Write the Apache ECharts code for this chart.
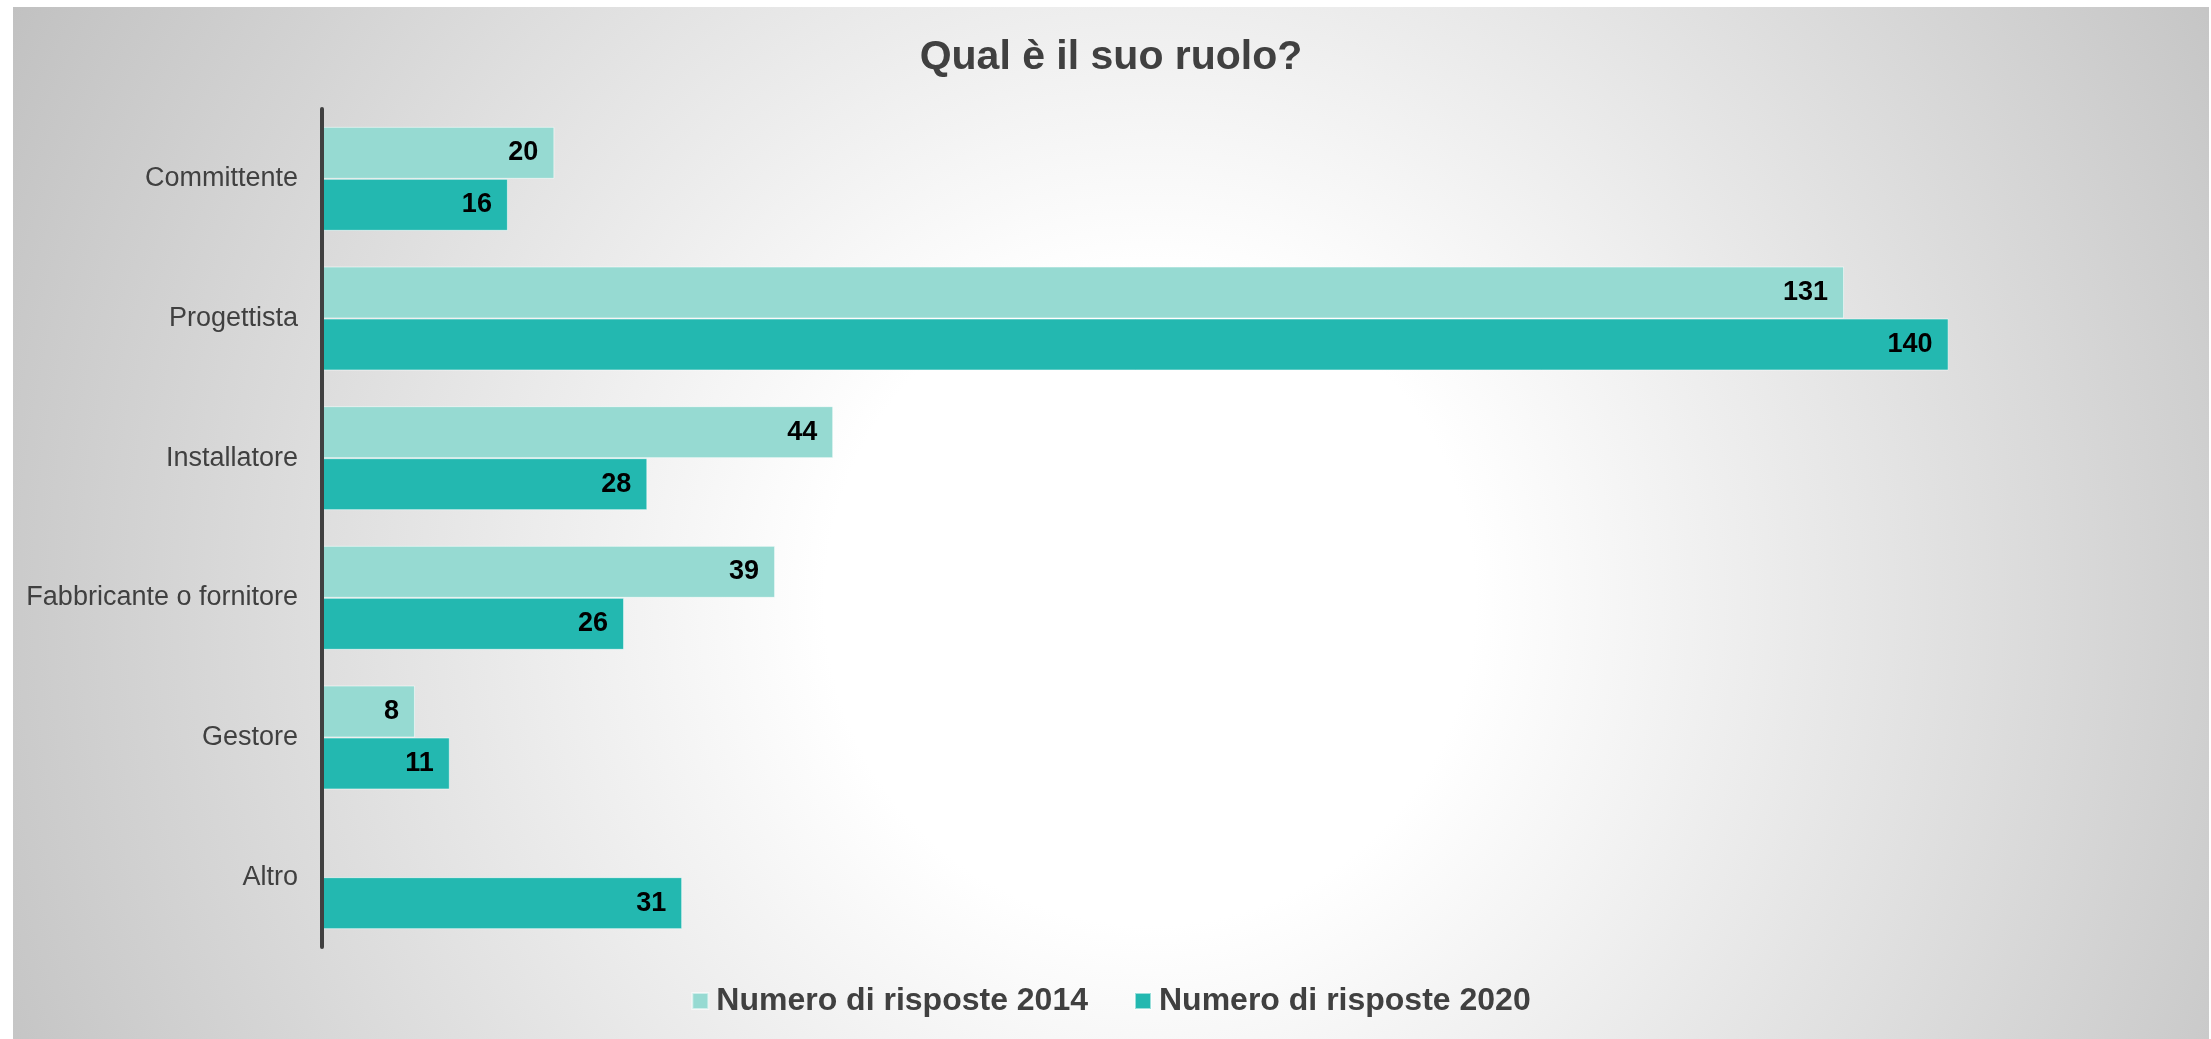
<!DOCTYPE html>
<html>
<head>
<meta charset="utf-8">
<script src="https://cdn.jsdelivr.net/npm/echarts@6/dist/echarts.min.js"></script>
<style>
  html, body { margin: 0; padding: 0; background: #fff; }
  #chart {
    position: absolute;
    left: 13px;
    top: 7px;
    width: 2196px;
    height: 1032px;
    background: radial-gradient(1300px 1300px at 1137px 593px, #ffffff 0%, #ffffff 25%, #c0c0c0 100%);
  }
</style>
</head>
<body>
<div id="chart"></div>
<script>
const categories = ['Committente', 'Progettista', 'Installatore', 'Fabbricante o fornitore', 'Gestore', 'Altro'];
const seriesNames = ['Numero di risposte 2014', 'Numero di risposte 2020'];
const values2014 = [20, 131, 44, 39, 8, null];
const values2020 = [16, 140, 28, 26, 11, 31];

const textColor = '#404040';
const font = 'Liberation Sans, Arial, sans-serif';

const chart = echarts.init(document.getElementById('chart'));

function barSeries(name, data, color) {
  return {
    name,
    type: 'bar',
    data,
    barWidth: 52,
    barGap: '0%',
    itemStyle: {
      color,
      borderColor: 'rgba(255,255,255,0.55)',
      borderWidth: 1
    },
    label: {
      show: true,
      position: 'insideRight',
      distance: 16,
      color: '#000',
      fontWeight: 'bold',
      fontSize: 27,
      fontFamily: font
    }
  };
}

chart.setOption({
  animation: false,
  title: {
    text: 'Qual è il suo ruolo?',
    left: 'center',
    top: 25,
    textStyle: {
      color: textColor,
      fontSize: 41,
      fontWeight: 'bold',
      fontFamily: font
    }
  },
  legend: {
    bottom: 17,
    left: 'center',
    itemWidth: 16,
    itemHeight: 16,
    itemGap: 46,
    icon: 'rect',
    textStyle: {
      color: textColor,
      fontSize: 32,
      fontWeight: 'bold',
      fontFamily: font,
      padding: [0, 0, 0, 3]
    }
  },
  grid: {
    left: 309,
    right: 28,
    top: 102,
    bottom: 92,
    containLabel: false
  },
  xAxis: {
    type: 'value',
    min: 0,
    max: 160,
    show: false
  },
  yAxis: {
    type: 'category',
    data: categories,
    inverse: true,
    z: 5,
    axisLine: { show: true, lineStyle: { color: textColor, width: 4 } },
    axisTick: { show: false },
    splitLine: { show: false },
    axisLabel: {
      color: textColor,
      fontSize: 27,
      margin: 24,
      fontFamily: font
    }
  },
  series: [
    barSeries(seriesNames[0], values2014, '#96dad2'),
    barSeries(seriesNames[1], values2020, '#23b8b0')
  ]
});

window.addEventListener('resize', () => chart.resize());
</script>
</body>
</html>
